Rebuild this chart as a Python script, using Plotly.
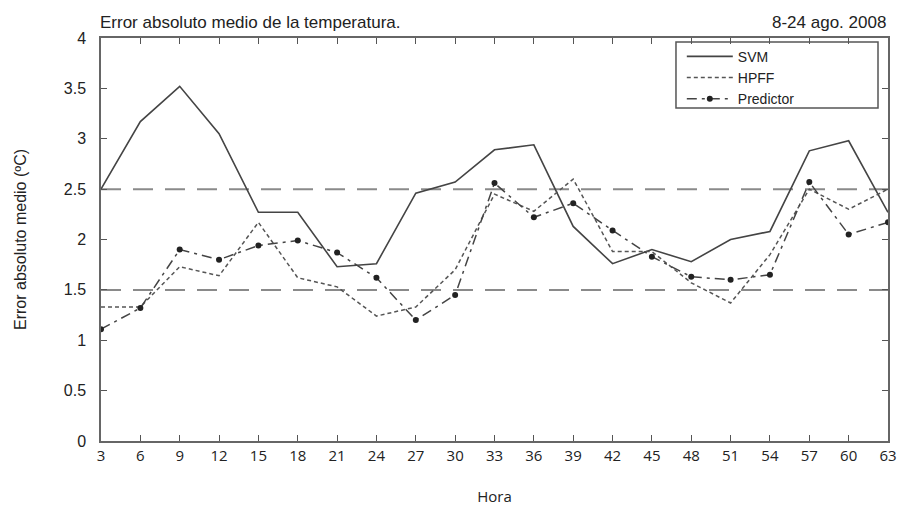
import plotly.graph_objects as go

horas = [3, 6, 9, 12, 15, 18, 21, 24, 27, 30, 33, 36, 39, 42, 45, 48, 51, 54, 57, 60, 63]
svm = [2.50, 3.17, 3.52, 3.05, 2.27, 2.27, 1.73, 1.76, 2.46, 2.57, 2.89, 2.94,
       2.13, 1.76, 1.90, 1.78, 2.00, 2.08, 2.88, 2.98, 2.27]
hpff = [1.33, 1.33, 1.73, 1.64, 2.17, 1.62, 1.53, 1.24, 1.33, 1.70, 2.45, 2.28,
        2.60, 1.88, 1.88, 1.57, 1.37, 1.85, 2.50, 2.30, 2.50]
predictor = [1.11, 1.32, 1.90, 1.80, 1.94, 1.99, 1.87, 1.62, 1.20, 1.45, 2.56, 2.22,
             2.36, 2.09, 1.83, 1.63, 1.60, 1.65, 2.57, 2.05, 2.17]
ref_levels = [2.5, 1.5]
x_ticks = horas
y_ticks = [0, 0.5, 1, 1.5, 2, 2.5, 3, 3.5, 4]

fig = go.Figure()
for lv in ref_levels:
    fig.add_trace(go.Scatter(x=[horas[0], horas[-1]], y=[lv, lv], mode="lines",
                             line=dict(color="#8a8a8a", width=2, dash="20px,12px"),
                             showlegend=False, hoverinfo="skip"))

fig.add_trace(go.Scatter(x=horas, y=svm, mode="lines", name="SVM",
                         line=dict(color="#444444", width=1.6)))
fig.add_trace(go.Scatter(x=horas, y=hpff, mode="lines", name="HPFF",
                         line=dict(color="#555555", width=1.5, dash="4px,3px")))
fig.add_trace(go.Scatter(x=horas, y=predictor, mode="lines+markers", name="Predictor",
                         line=dict(color="#444444", width=1.5, dash="10px,5px,3px,5px"),
                         marker=dict(color="#222222", size=6, symbol="circle")))

axis_common = dict(showgrid=False, zeroline=False, showline=True, linecolor="#666666",
                   linewidth=1.5, mirror="ticks", ticks="inside", ticklen=6,
                   tickcolor="#555555")

fig.update_xaxes(range=[3, 63], tickvals=x_ticks, ticktext=[str(v) for v in x_ticks],
                 tickfont=dict(family="Open Sans, Liberation Sans", size=15, color="#222222"),
                 title=dict(text="Hora", standoff=28,
                            font=dict(family="Open Sans, Liberation Sans", size=15, color="#222222")),
                 **axis_common)
fig.update_yaxes(range=[0, 4], tickvals=y_ticks, ticktext=[("%g" % v) for v in y_ticks],
                 tickfont=dict(family="Liberation Sans, Arial", size=16, color="#222222"),
                 ticklabelstandoff=10,
                 title=dict(text="Error absoluto medio (ºC)", standoff=33,
                            font=dict(family="Liberation Sans, Arial", size=16, color="#222222")),
                 **axis_common)

fig.update_layout(
    width=914, height=512,
    margin=dict(l=93, r=34, t=30, b=79),
    paper_bgcolor="white", plot_bgcolor="white",
    showlegend=True,
    legend=dict(x=0.738, y=0.993, xanchor="left", yanchor="top",
                borderwidth=0, bgcolor="rgba(0,0,0,0)",
                font=dict(family="Liberation Sans, Arial", size=14, color="#222222"),
                tracegroupgap=0, itemwidth=46),
    shapes=[dict(type="rect", xref="paper", yref="paper", x0=0.7306, x1=0.9873,
                 y0=0.826, y1=0.990, line=dict(color="#555555", width=1.5),
                 fillcolor="white", layer="below")],
    annotations=[
        dict(text="Error absoluto medio de la temperatura.", xref="paper", yref="paper",
             x=-0.004, y=1.0, xanchor="left", yanchor="bottom", yshift=4, showarrow=False,
             font=dict(family="Liberation Sans, Arial", size=17, color="#222222")),
        dict(text="8-24 ago. 2008", xref="paper", yref="paper",
             x=1.0, y=1.0, xanchor="right", yanchor="bottom", yshift=4, showarrow=False,
             font=dict(family="Liberation Sans, Arial", size=17, color="#222222")),
    ],
)

fig.write_html("out.html")
